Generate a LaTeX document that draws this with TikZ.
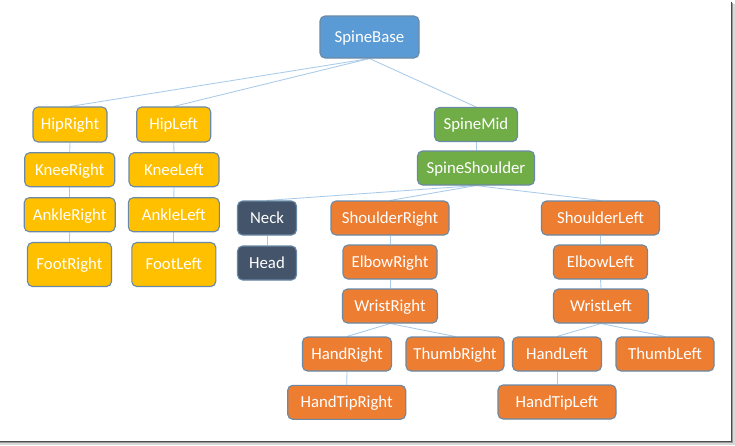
\documentclass[tikz,border=0pt]{standalone}
\usepackage{fontspec}
\setmainfont{Carlito}
\definecolor{cblue}{HTML}{5B9BD5}
\definecolor{cyellow}{HTML}{FFC000}
\definecolor{cgreen}{HTML}{70AD47}
\definecolor{corange}{HTML}{ED7D31}
\definecolor{cslate}{HTML}{44546A}
\definecolor{cborder}{HTML}{6A89A6}
\definecolor{cline}{HTML}{A9CBEA}
\pgfdeclarelayer{back}
\pgfdeclarelayer{bg}
\pgfsetlayers{back,bg,main}
\tikzset{
  box/.style={draw=cborder, line width=1.1pt, rounded corners=5pt, inner sep=0pt,
    text=white, font=\fontsize{16.8}{18}\selectfont, anchor=center,
    text height=10.8pt, text depth=0pt},
  bluebox/.style={box, fill=cblue},
  yelbox/.style={box, fill=cyellow},
  grnbox/.style={box, fill=cgreen},
  orbox/.style={box, fill=corange},
  slbox/.style={box, fill=cslate},
  link/.style={draw=cline, line width=0.85pt},
}
\newcommand{\bx}[6]{\node[#1, minimum width=#4pt, minimum height=#5pt] (#6) at (#2,#3) {#6};}
\begin{document}
\begin{tikzpicture}[x=1pt,y=-1pt]
\useasboundingbox (0,0) rectangle (735,445);
\begin{pgfonlayer}{back}
\fill[white] (0,0) rectangle (735,445);
% frame shadow
\draw[black!70, line width=1.2pt] (731.6,1.5) -- (731.6,441.6) -- (0,441.6);
\draw[black!40, line width=1.2pt] (732.8,2.5) -- (732.8,442.8) -- (0,442.8);
\draw[black!15, line width=1.2pt] (734,3.5) -- (734,444) -- (0,444);
\end{pgfonlayer}
% nodes
\bx{bluebox}{369.5}{37}{99}{42}{SpineBase}
\bx{yelbox}{70}{124.5}{74}{35}{HipRight}
\bx{yelbox}{173.7}{124.5}{74}{35}{HipLeft}
\bx{yelbox}{69.7}{169.7}{90}{34}{KneeRight}
\bx{yelbox}{174}{169.7}{90}{34}{KneeLeft}
\bx{yelbox}{69.7}{214.7}{91}{34}{AnkleRight}
\bx{yelbox}{173.8}{214.7}{91}{34}{AnkleLeft}
\bx{yelbox}{69.5}{264.5}{84}{44}{FootRight}
\bx{yelbox}{173.8}{264.5}{84}{44}{FootLeft}
\bx{grnbox}{476}{124.5}{83}{34}{SpineMid}
\bx{grnbox}{476}{168}{117}{34}{SpineShoulder}
\bx{slbox}{267}{218}{59}{34}{Neck}
\bx{slbox}{267}{263}{59}{34}{Head}
\bx{orbox}{390}{218}{118}{34}{ShoulderRight}
\bx{orbox}{600.5}{218}{118}{34}{ShoulderLeft}
\bx{orbox}{390}{262}{94}{34}{ElbowRight}
\bx{orbox}{600.5}{262}{94}{34}{ElbowLeft}
\bx{orbox}{390}{306}{95}{34}{WristRight}
\bx{orbox}{601}{306}{95}{34}{WristLeft}
\bx{orbox}{347}{354}{89}{34}{HandRight}
\bx{orbox}{455}{354}{98}{34}{ThumbRight}
\bx{orbox}{557}{354}{89}{34}{HandLeft}
\bx{orbox}{665}{354}{98}{34}{ThumbLeft}
\bx{orbox}{346.7}{402.3}{118}{34}{HandTipRight}
\bx{orbox}{557}{402}{118}{34}{HandTipLeft}
% connectors
\begin{pgfonlayer}{bg}
\foreach \p/\c in {SpineBase/HipRight, SpineBase/HipLeft, SpineBase/SpineMid,
  HipRight/KneeRight, KneeRight/AnkleRight, AnkleRight/FootRight,
  HipLeft/KneeLeft, KneeLeft/AnkleLeft, AnkleLeft/FootLeft,
  SpineMid/SpineShoulder, SpineShoulder/Neck, SpineShoulder/ShoulderRight, SpineShoulder/ShoulderLeft,
  Neck/Head, ShoulderRight/ElbowRight, ElbowRight/WristRight, WristRight/HandRight, WristRight/ThumbRight,
  HandRight/HandTipRight, ShoulderLeft/ElbowLeft, ElbowLeft/WristLeft, WristLeft/HandLeft, WristLeft/ThumbLeft,
  HandLeft/HandTipLeft}
  \draw[link] (\p.south) -- (\c.north);
\end{pgfonlayer}
\end{tikzpicture}
\end{document}
